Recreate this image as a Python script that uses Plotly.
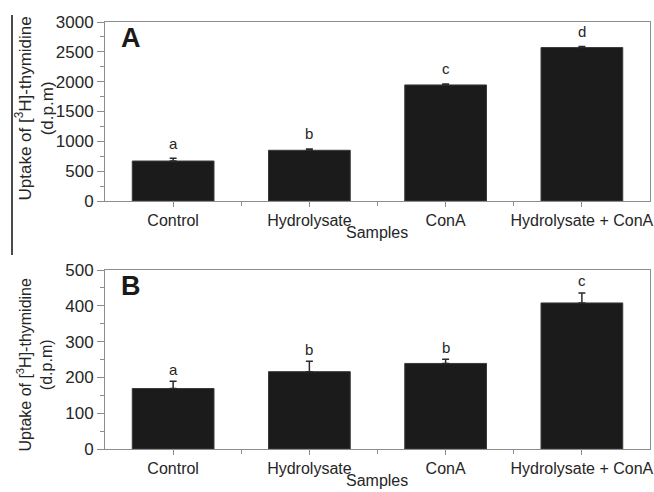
import plotly.graph_objects as go

categories = ["Control", "Hydrolysate", "ConA", "Hydrolysate + ConA"]

uptake_a = [670, 850, 1945, 2572]
err_a = [45, 22, 16, 16]
letters_a = ["a", "b", "c", "d"]

uptake_b = [169, 216, 239, 408]
err_b = [20, 29, 12, 28]
letters_b = ["a", "b", "b", "c"]

yticks_a = [0, 500, 1000, 1500, 2000, 2500, 3000]
yticks_b = [0, 100, 200, 300, 400, 500]

panel_labels = ["A", "B"]
x_title = "Samples"
y_title = "Uptake of [<sup>3</sup>H]-thymidine<br>(d.p.m)"

W, H = 654, 492
FONT = "Liberation Sans, Arial, sans-serif"
TXT = "#262626"
AX = "#8c8c8c"

xpos = list(range(len(categories)))
minor_x = [i + 0.5 for i in range(len(categories) - 1)]


def px_x(p):
    return p / W


def px_y(p):
    return 1 - p / H


fig = go.Figure()

# (values, errors, letters, yticks, xref, yref, (top px, bottom px), letter shift, ytitle size, ytitle centre offset)
panels = [
    (uptake_a, err_a, letters_a, yticks_a, "x", "y", (22, 201), 15, 17, -3),
    (uptake_b, err_b, letters_b, yticks_b, "x2", "y2", (270, 449), 12, 16, 5),
]

for vals, errs, lets, yt, xr, yr, *_ in panels:
    fig.add_trace(go.Bar(
        x=xpos, y=vals, width=0.6, xaxis=xr, yaxis=yr,
        marker=dict(color="#1b1b1b", line=dict(color="#3a3a3a", width=1)),
        error_y=dict(type="data", array=errs, arrayminus=[0] * len(errs),
                     symmetric=False, color="#2a2a2a", thickness=1.5, width=3.5),
        showlegend=False, hoverinfo="skip",
    ))

annotations = []
shapes = []
for k, (vals, errs, lets, yt, xr, yr, (top, bot), shift, tsize, toff) in enumerate(panels):
    for i, (v, e, l) in enumerate(zip(vals, errs, lets)):
        annotations.append(dict(
            x=xpos[i], y=v + e, xref=xr, yref=yr, text=l, showarrow=False,
            yanchor="middle", yshift=shift,
            font=dict(family=FONT, size=15, color=TXT)))
    # panel letter
    annotations.append(dict(
        x=px_x(131), y=px_y(top + 16), xref="paper", yref="paper",
        text="<b>%s</b>" % panel_labels[k], showarrow=False,
        xanchor="center", yanchor="middle",
        font=dict(family=FONT, size=27, color="#1a1a1a")))
    # y title
    annotations.append(dict(
        x=px_x(35), y=px_y((top + bot) / 2 + toff), xref="paper", yref="paper",
        text=y_title, showarrow=False, textangle=-90,
        xanchor="center", yanchor="middle",
        font=dict(family=FONT, size=tsize, color=TXT)))
    # x title
    annotations.append(dict(
        x=px_x(377), y=px_y(bot + 31), xref="paper", yref="paper",
        text=x_title, showarrow=False, xanchor="center", yanchor="middle",
        font=dict(family=FONT, size=16, color=TXT)))

# stray vertical rule at the left edge of the original figure
shapes.append(dict(type="line", xref="paper", yref="paper",
                   x0=px_x(12), x1=px_x(12), y0=px_y(15), y1=px_y(255),
                   line=dict(color="#4a4a4a", width=2)))

xdom = [px_x(105), px_x(650)]


def xaxis(anchor):
    return dict(
        domain=xdom, anchor=anchor, range=[-0.5, len(categories) - 0.5],
        tickvals=xpos, ticktext=categories, showline=True, mirror=True,
        linecolor=AX, linewidth=1, ticks="outside", ticklen=5, tickcolor=AX,
        showgrid=False, zeroline=False, automargin=False,
        tickfont=dict(family=FONT, size=16, color=TXT),
        minor=dict(tickvals=minor_x, ticks="outside", ticklen=4, tickcolor=AX),
    )


def yaxis(anchor, ticks, top, bot):
    minor_vals = [(a + b) / 2 for a, b in zip(ticks[:-1], ticks[1:])]
    return dict(
        domain=[px_y(bot), px_y(top)], anchor=anchor,
        range=[ticks[0], ticks[-1]], tickvals=ticks, showline=True, mirror=True,
        linecolor=AX, linewidth=1, ticks="outside", ticklen=7, tickcolor=AX,
        showgrid=False, zeroline=False, automargin=False,
        tickfont=dict(family=FONT, size=17, color=TXT),
        minor=dict(tickvals=minor_vals, ticks="outside", ticklen=4, tickcolor=AX),
    )


fig.update_layout(
    width=W, height=H, margin=dict(l=0, r=0, t=0, b=0, autoexpand=False),
    paper_bgcolor="white", plot_bgcolor="white",
    xaxis=xaxis("y"), yaxis=yaxis("x", yticks_a, 22, 201),
    xaxis2=xaxis("y2"), yaxis2=yaxis("x2", yticks_b, 270, 449),
    annotations=annotations, shapes=shapes, bargap=0.4,
)

fig.write_html("out.html")
